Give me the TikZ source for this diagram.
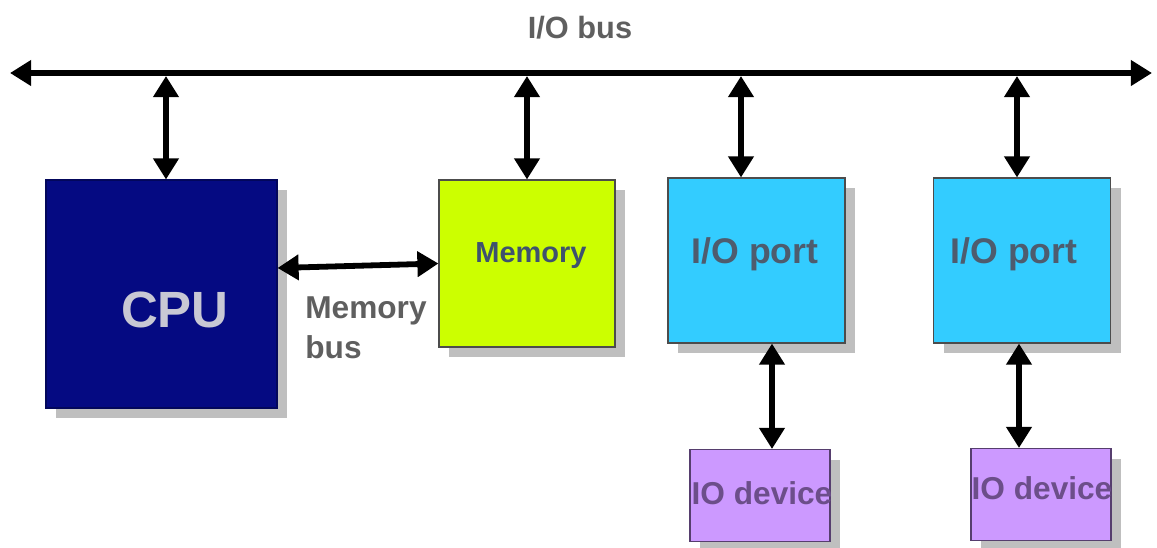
\documentclass[tikz,border=0pt]{standalone}
\usepackage{fontspec}
\setmainfont{Liberation Sans}
\usetikzlibrary{arrows.meta,shadows}

\definecolor{cpublue}{RGB}{5,10,130}
\definecolor{cputext}{RGB}{200,200,212}
\definecolor{memlime}{RGB}{204,255,0}
\definecolor{memtext}{RGB}{62,82,110}
\definecolor{portcyan}{RGB}{51,204,255}
\definecolor{porttext}{RGB}{78,92,110}
\definecolor{devlilac}{RGB}{204,153,255}
\definecolor{devtext}{RGB}{108,78,138}
\definecolor{labgray}{RGB}{95,95,95}

\tikzset{
  box/.style={draw=black!70, line width=0.6pt, inner sep=0pt,
    drop shadow={shadow xshift=2mm, shadow yshift=-2mm, fill=black!25, opacity=1}},
  cpubox/.style={box, fill=cpublue, draw=cpublue!70!black, minimum width=46.2mm, minimum height=45.6mm},
  membox/.style={box, fill=memlime, minimum width=35.2mm, minimum height=33.4mm},
  portbox/.style={box, fill=portcyan, minimum width=35.4mm, minimum height=33mm},
  devbox/.style={box, fill=devlilac, draw=devtext!80!black, minimum width=28mm, minimum height=18.4mm},
  bus/.style={line width=3.3pt, {Triangle[length=12pt,width=14pt]}-{Triangle[length=12pt,width=14pt]}},
  txt/.style={font=\bfseries, inner sep=0pt}
}

\begin{document}
\begin{tikzpicture}[x=0.2mm, y=-0.2mm]

\useasboundingbox (0,0) rectangle (1157,547);

% the bus
\coordinate (busL) at (10,73);
\coordinate (busR) at (1152,73);
\draw[bus] (busL) -- (busR);
\node[txt, text=labgray, font=\bfseries\fontsize{17.5}{20}\selectfont] (iobus) at (580,28) {I/O bus};

% boxes
\node[cpubox]  (cpu)   at (161.5,294) {};
\node[membox]  (mem)   at (527,263.5) {};
\node[portbox] (port1) at (756.5,260.5) {};
\node[portbox] (port2) at (1022,260.5) {};
\node[devbox]  (dev1)  at (760,495.5) {};
\node[devbox]  (dev2)  at (1041,494.5) {};

% texts
\node[txt, text=cputext, font=\bfseries\fontsize{29}{32}\selectfont] (cputxt) at (175,310) {CPU};
\node[txt, text=memtext, font=\bfseries\fontsize{16.5}{19}\selectfont] (memtxt) at (531,256) {Memory};
\node[txt, text=porttext, font=\bfseries\fontsize{20.3}{23}\selectfont] (p1txt) at (755,254) {I/O port};
\node[txt, text=porttext, font=\bfseries\fontsize{20.3}{23}\selectfont] (p2txt) at (1014,254) {I/O port};
\node[txt, text=devtext, font=\bfseries\fontsize{18}{21}\selectfont] (d1txt) at (762,493) {IO device};
\node[txt, text=devtext, font=\bfseries\fontsize{18}{21}\selectfont] (d2txt) at (1042,488) {IO device};
\node[txt, text=labgray, font=\bfseries\fontsize{18}{22.7}\selectfont, align=left, anchor=north west] (mbus) at (305,296) {Memory\\bus};

% taps on the bus
\coordinate (t1) at (166,76);
\coordinate (t2) at (527,76);
\coordinate (t3) at (741,76);
\coordinate (t4) at (1017,76);

\draw[bus] (t1) -- (t1 |- cpu.north);
\draw[bus] (t2) -- (t2 |- mem.north);
\draw[bus] (t3) -- (t3 |- port1.north);
\draw[bus] (t4) -- (t4 |- port2.north);

% memory bus
\draw[bus] ([yshift=5.2mm]cpu.east) -- (mem.west);

% ports to devices
\draw[bus] ([xshift=3.1mm]port1.south) -- ([xshift=3.1mm]port1.south |- dev1.north);
\draw[bus] ([xshift=-0.6mm]port2.south) -- ([xshift=-0.6mm]port2.south |- dev2.north);

\end{tikzpicture}
\end{document}
